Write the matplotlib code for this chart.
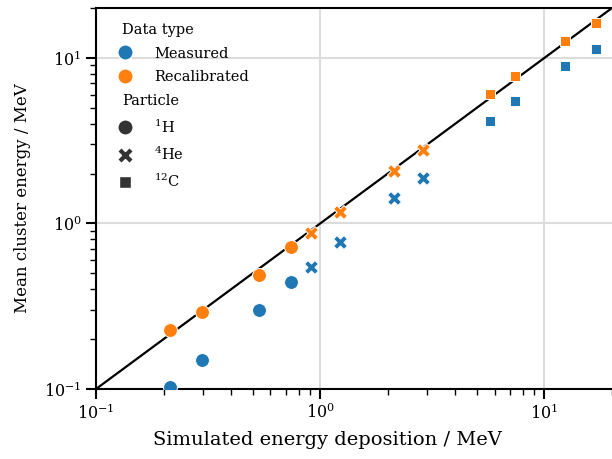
import matplotlib
matplotlib.use("Agg")
import matplotlib.pyplot as plt
from matplotlib.lines import Line2D
import numpy as np

plt.rcParams['font.family'] = ['DejaVu Serif']
plt.rcParams['mathtext.fontset'] = 'dejavuserif'

particles = ["1H", "4He", "12C"]
sim_H = [0.214, 0.296, 0.532, 0.74]
meas_H = [0.103, 0.150, 0.299, 0.442]
recal_H = [0.227, 0.291, 0.486, 0.716]
sim_He = [0.908, 1.225, 2.13, 2.86]
meas_He = [0.543, 0.77, 1.43, 1.88]
recal_He = [0.871, 1.18, 2.07, 2.78]
sim_C = [5.69, 7.40, 12.4, 17.05]
meas_C = [4.17, 5.51, 8.91, 11.3]
recal_C = [6.01, 7.82, 12.65, 16.3]

blue = '#1f77b4'
orange = '#ff7f0e'
square = (4, 0, 45)

fig = plt.figure(figsize=(6.12, 4.59), dpi=100)
ax = fig.add_axes([96/612, 1-389/459, 1-96/612, (389-8)/459])

ax.set_xscale('log')
ax.set_yscale('log')
ax.set_xlim(0.1, 20)
ax.set_ylim(0.1, 20)

ax.plot([0.1, 20], [0.1, 20], color='black', lw=1.6, zorder=2)

groups = [(sim_H, meas_H, recal_H, 'o'),
          (sim_He, meas_He, recal_He, 'X'),
          (sim_C, meas_C, recal_C, square)]
for sx, my, ry, mk in groups:
    ax.scatter(sx, my, marker=mk, s=100, color=blue, edgecolor='white', linewidth=0.7, zorder=3)
    ax.scatter(sx, ry, marker=mk, s=100, color=orange, edgecolor='white', linewidth=0.7, zorder=3)

ax.grid(True, which='major', color='#dcdcdc', lw=1.5, zorder=0)
ax.set_axisbelow(True)
for sp in ['left', 'bottom', 'top']:
    ax.spines[sp].set_linewidth(1.5)
ax.spines['right'].set_visible(False)
ax.tick_params(which='major', length=7, width=1.5, labelsize=11.5, direction='out')
ax.tick_params(which='minor', length=4, width=1.0, direction='out')
ax.tick_params(top=False, right=False)

ax.set_xlabel('Simulated energy deposition / MeV', fontsize=14)
ax.set_ylabel('Mean cluster energy / MeV', fontsize=12)
ax.xaxis.set_label_coords((327.5-96)/516, -0.11)
ax.yaxis.set_label_coords((31-96)/516, 0.5)

ms = 11
handles = [
    Line2D([], [], linestyle='none', label='Data type'),
    Line2D([], [], marker='o', color=blue, linestyle='none', markersize=ms, markeredgecolor='white', label='Measured'),
    Line2D([], [], marker='o', color=orange, linestyle='none', markersize=ms, markeredgecolor='white', label='Recalibrated'),
    Line2D([], [], linestyle='none', label='Particle'),
    Line2D([], [], marker='o', color='#333333', linestyle='none', markersize=ms, markeredgecolor='white', label=r'$^{1}$H'),
    Line2D([], [], marker='X', color='#333333', linestyle='none', markersize=ms, markeredgecolor='white', label=r'$^{4}$He'),
    Line2D([], [], marker=square, color='#333333', linestyle='none', markersize=ms + 1, markeredgecolor='white', label=r'$^{12}$C'),
]
leg = ax.legend(handles=handles, loc='upper left', frameon=False, fontsize=10.5,
                handletextpad=1.0, labelspacing=0.68, borderaxespad=0.6)
for t in leg.get_texts():
    if t.get_text() in ('Data type', 'Particle'):
        t.set_position((-32, 0))

fig.savefig('out.png', dpi=100)
